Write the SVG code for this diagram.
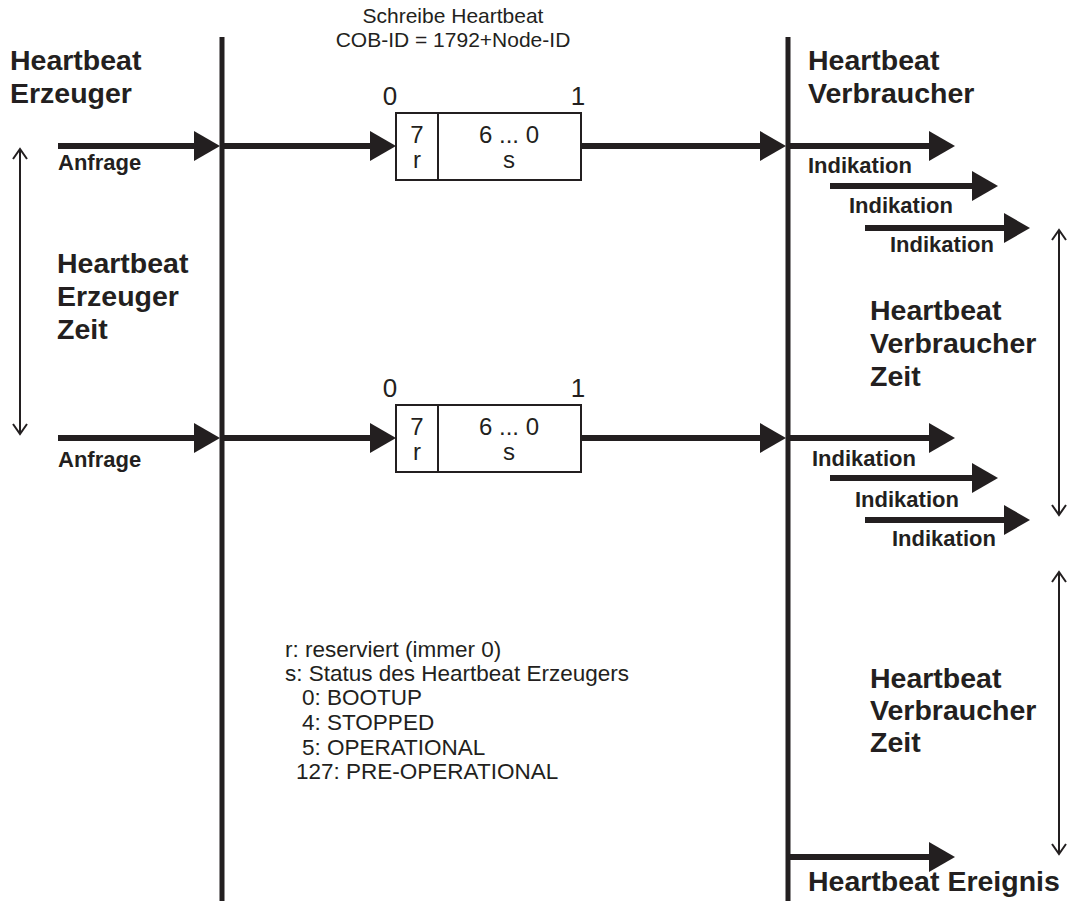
<svg xmlns="http://www.w3.org/2000/svg" width="1081" height="901" viewBox="0 0 1081 901">
<style>
.bg{fill:#ffffff}
.life{stroke:#231f20;stroke-width:5;fill:none}
.msg{stroke:#231f20;stroke-width:6;fill:none;marker-end:url(#head)}
.dim{stroke:#231f20;stroke-width:2;fill:none;marker-start:url(#open);marker-end:url(#open)}
.box{fill:#ffffff;stroke:#231f20;stroke-width:2}
.h{font-family:"Liberation Sans",Arial,sans-serif;font-weight:bold;font-size:28.5px;fill:#231f20}
.lbl{font-family:"Liberation Sans",Arial,sans-serif;font-weight:bold;font-size:22px;fill:#231f20}
.t{font-family:"Liberation Sans",Arial,sans-serif;font-size:21px;fill:#231f20}
.b{font-family:"Liberation Sans",Arial,sans-serif;font-size:24px;fill:#231f20}
.lg{font-family:"Liberation Sans",Arial,sans-serif;font-size:22.5px;fill:#231f20}
.n{font-family:"Liberation Sans",Arial,sans-serif;font-size:26px;fill:#231f20}
.c{text-anchor:middle}
</style>
<defs>
<marker id="head" markerUnits="userSpaceOnUse" markerWidth="30" markerHeight="32" refX="0" refY="15" orient="auto" overflow="visible">
<path d="M0,0 L26,15 L0,30 Z" fill="#231f20"/>
</marker>
<marker id="open" markerUnits="userSpaceOnUse" markerWidth="20" markerHeight="20" refX="0" refY="0" orient="auto-start-reverse" overflow="visible">
<path d="M-10,-7 L0,0 L-10,7" fill="none" stroke="#231f20" stroke-width="2"/>
</marker>
</defs>
<rect class="bg" x="0" y="0" width="1081" height="901"/>

<g id="producer-lifeline"><line class="life" x1="222" y1="37" x2="222" y2="901"/></g>
<g id="consumer-lifeline"><line class="life" x1="788" y1="37" x2="788" y2="901"/></g>

<g id="producer-title">
<text class="h" x="10" y="70">Heartbeat</text>
<text class="h" x="10" y="103">Erzeuger</text>
</g>
<g id="consumer-title">
<text class="h" x="808" y="70">Heartbeat</text>
<text class="h" x="808" y="103">Verbraucher</text>
</g>
<g id="message-title">
<text class="t c" x="453" y="23">Schreibe Heartbeat</text>
<text class="t c" x="453" y="47">COB-ID = 1792+Node-ID</text>
</g>

<g id="frame1">
<text class="n c" x="390" y="105">0</text>
<text class="n c" x="578" y="105">1</text>
<rect class="box" x="396" y="113" width="185" height="67"/>
<line class="box" x1="438" y1="113" x2="438" y2="180"/>
<text class="b c" x="417" y="143">7</text>
<text class="b c" x="417" y="168">r</text>
<text class="b c" x="509" y="143">6 ... 0</text>
<text class="b c" x="509" y="168">s</text>
</g>
<g id="frame2">
<text class="n c" x="390" y="397">0</text>
<text class="n c" x="578" y="397">1</text>
<rect class="box" x="396" y="405" width="185" height="67"/>
<line class="box" x1="438" y1="405" x2="438" y2="472"/>
<text class="b c" x="417" y="435">7</text>
<text class="b c" x="417" y="460">r</text>
<text class="b c" x="509" y="435">6 ... 0</text>
<text class="b c" x="509" y="460">s</text>
</g>

<g id="labels">
<text class="lbl" x="58" y="170">Anfrage</text>
<text class="lbl" x="58" y="467">Anfrage</text>
<text class="lbl" x="808" y="173">Indikation</text>
<text class="lbl" x="849" y="213">Indikation</text>
<text class="lbl" x="890" y="252">Indikation</text>
<text class="lbl" x="812" y="466">Indikation</text>
<text class="lbl" x="855" y="507">Indikation</text>
<text class="lbl" x="892" y="546">Indikation</text>
<text class="h" x="808" y="891">Heartbeat Ereignis</text>
</g>

<g id="producer-time">
<text class="h" x="57" y="273">Heartbeat</text>
<text class="h" x="57" y="306">Erzeuger</text>
<text class="h" x="57" y="339">Zeit</text>
</g>
<g id="consumer-time1">
<text class="h" x="870" y="320">Heartbeat</text>
<text class="h" x="870" y="353">Verbraucher</text>
<text class="h" x="870" y="386">Zeit</text>
</g>
<g id="consumer-time2">
<text class="h" x="870" y="688">Heartbeat</text>
<text class="h" x="870" y="720">Verbraucher</text>
<text class="h" x="870" y="752">Zeit</text>
</g>

<g id="legend">
<text class="lg" x="285" y="657">r: reserviert (immer 0)</text>
<text class="lg" x="285" y="681">s: Status des Heartbeat Erzeugers</text>
<text class="lg" x="302" y="705">0: BOOTUP</text>
<text class="lg" x="302" y="730">4: STOPPED</text>
<text class="lg" x="302" y="755">5: OPERATIONAL</text>
<text class="lg" x="296" y="779">127: PRE-OPERATIONAL</text>
</g>

<g id="connectors">
<line class="msg" x1="58" y1="146" x2="194" y2="146"/>
<line class="msg" x1="222" y1="146" x2="370" y2="146"/>
<line class="msg" x1="581" y1="146" x2="760" y2="146"/>
<line class="msg" x1="788" y1="146" x2="929" y2="146"/>
<line class="msg" x1="830" y1="186" x2="972" y2="186"/>
<line class="msg" x1="865" y1="228" x2="1004" y2="228"/>
<line class="msg" x1="58" y1="438" x2="194" y2="438"/>
<line class="msg" x1="222" y1="438" x2="370" y2="438"/>
<line class="msg" x1="581" y1="438" x2="760" y2="438"/>
<line class="msg" x1="788" y1="438" x2="929" y2="438"/>
<line class="msg" x1="830" y1="478" x2="972" y2="478"/>
<line class="msg" x1="865" y1="520" x2="1004" y2="520"/>
<line class="msg" x1="788" y1="857" x2="929" y2="857"/>
<line class="dim" x1="20" y1="149" x2="20" y2="434"/>
<line class="dim" x1="1059" y1="230" x2="1059" y2="515"/>
<line class="dim" x1="1059" y1="572" x2="1059" y2="854"/>
</g>
</svg>
